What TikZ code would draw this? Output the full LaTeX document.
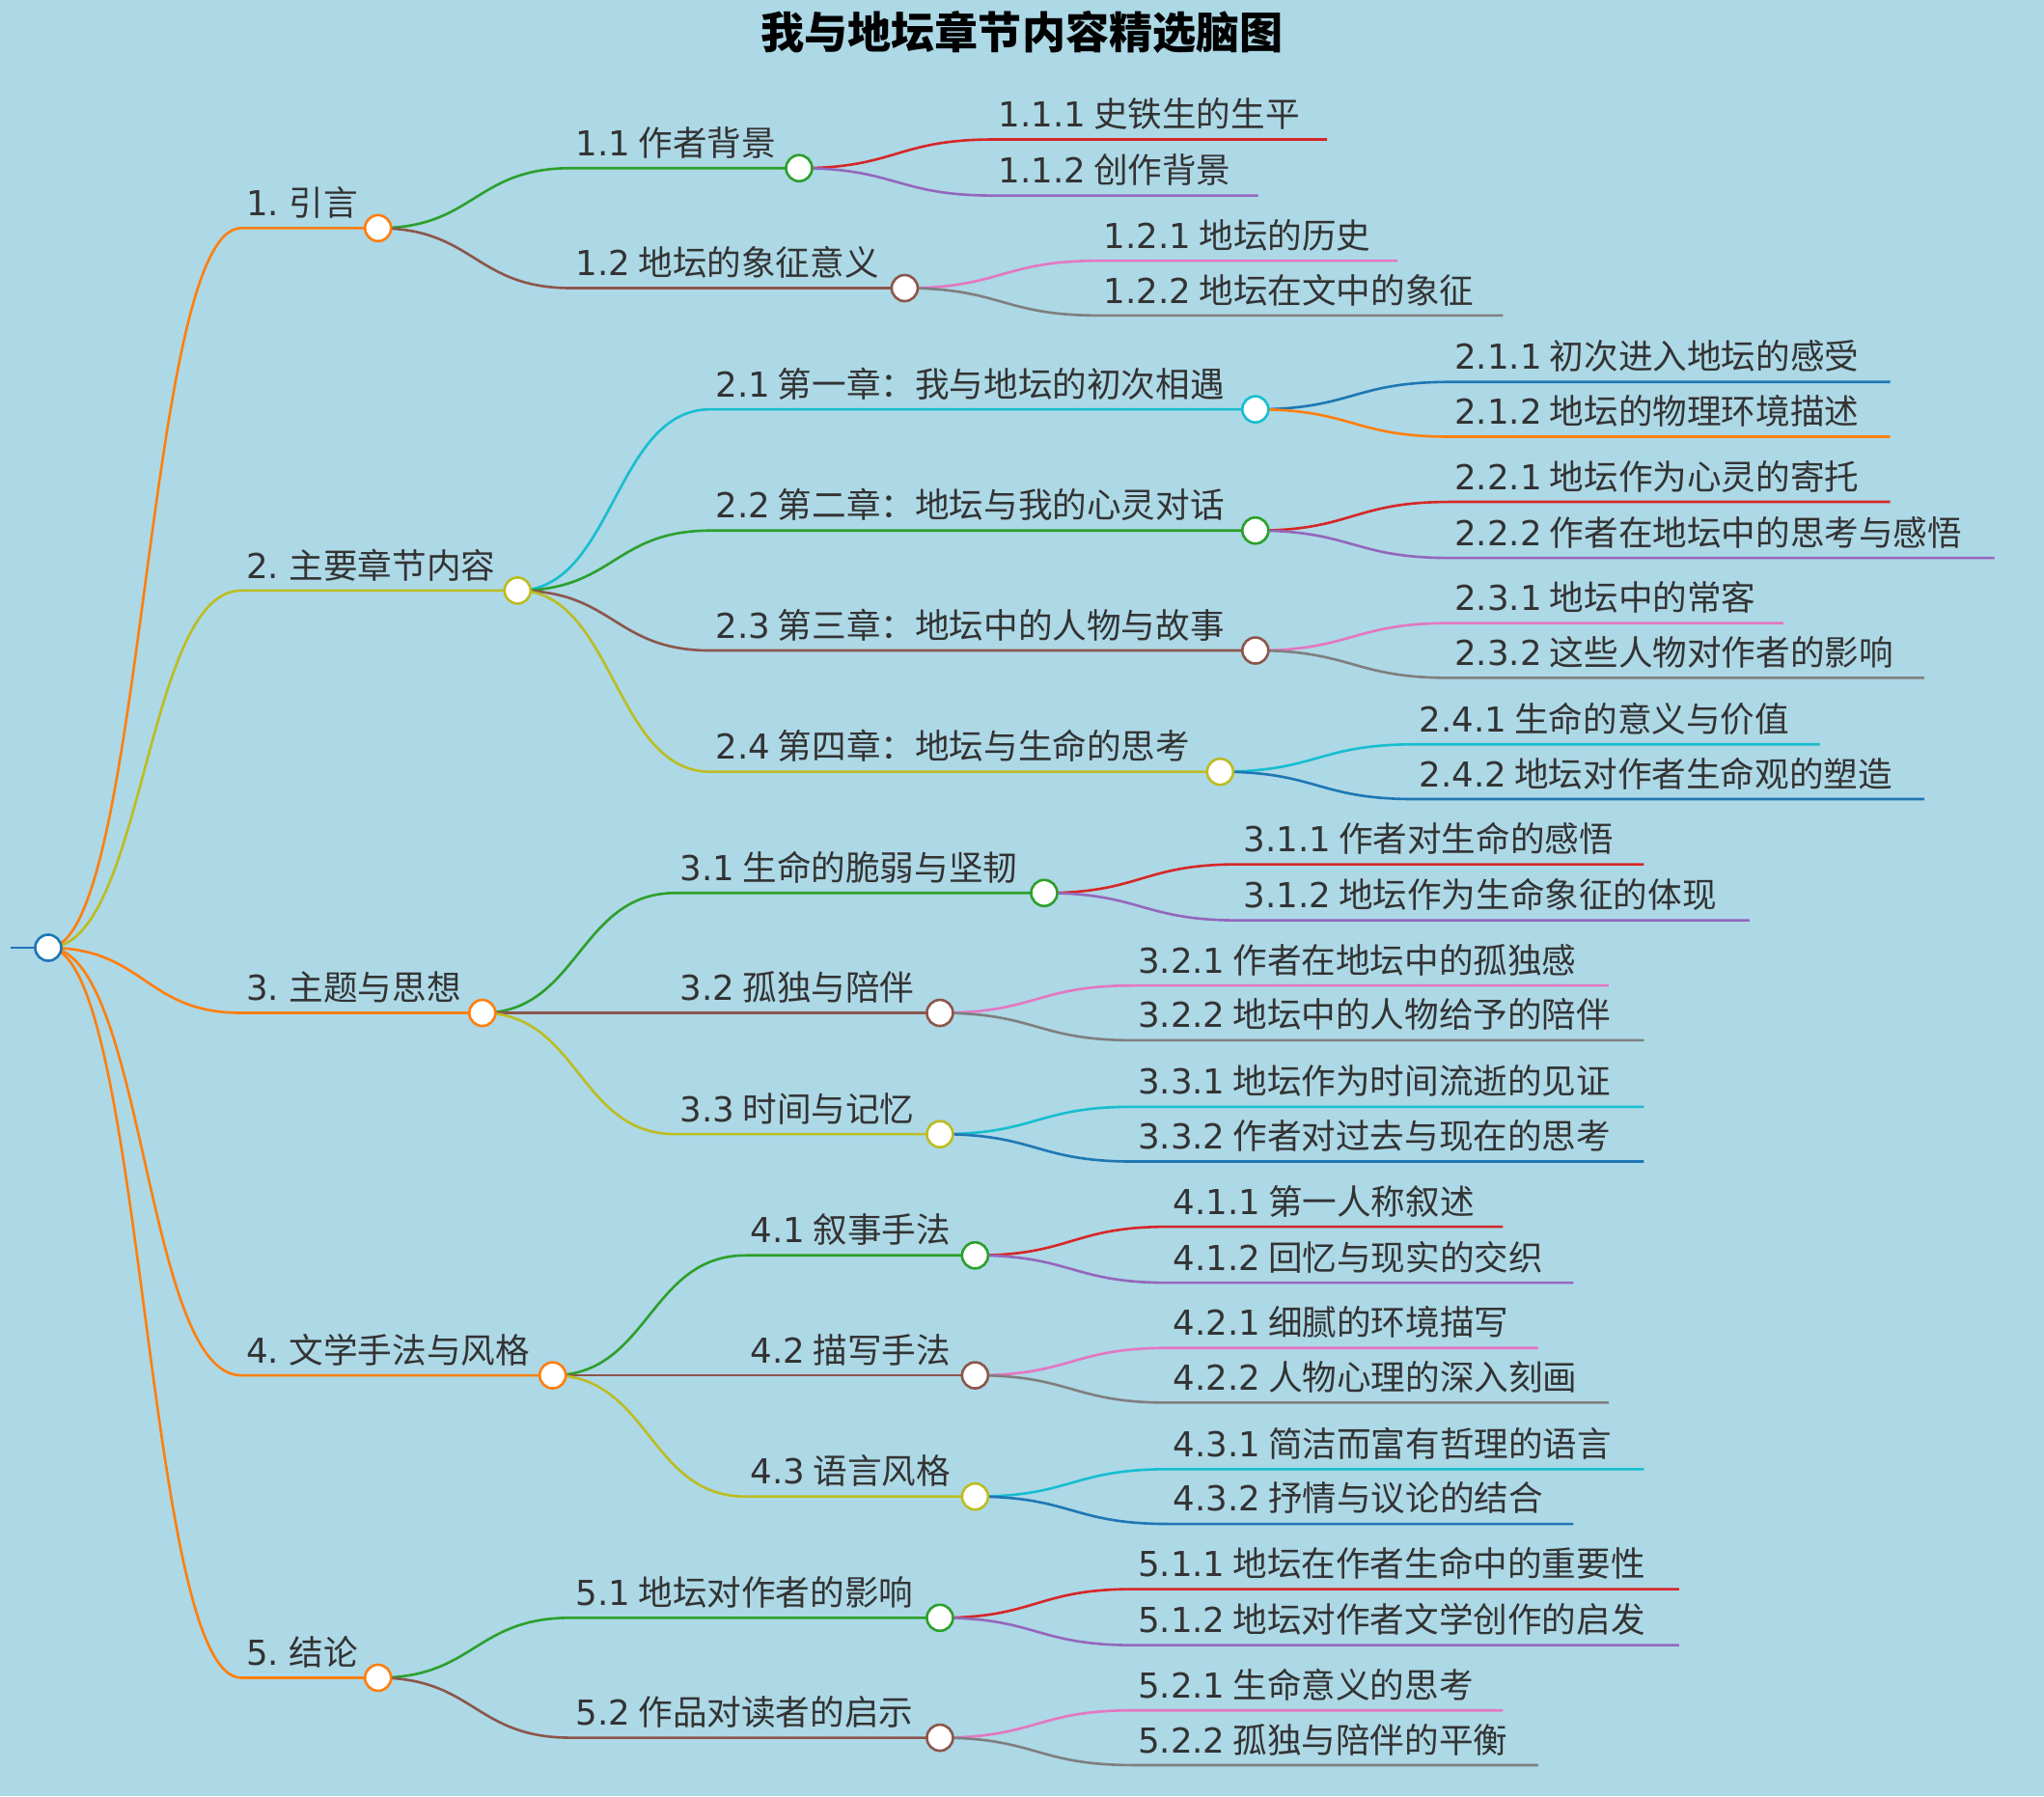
\documentclass[tikz,border=0pt]{standalone}
\usepackage{fontspec}
\setmainfont{Noto Sans CJK SC}
\newfontfamily\dejavu{DejaVu Sans}
\usetikzlibrary{positioning,calc}
\definecolor{bgc}{HTML}{ADD8E6}
\definecolor{txt}{HTML}{333333}
\definecolor{corange}{HTML}{FF7F0E}
\definecolor{colive}{HTML}{BCBD22}
\definecolor{cgreen}{HTML}{2CA02C}
\definecolor{cbrown}{HTML}{8C564B}
\definecolor{ccyan}{HTML}{17BECF}
\definecolor{cred}{HTML}{D62728}
\definecolor{cpurple}{HTML}{9467BD}
\definecolor{cpink}{HTML}{E377C2}
\definecolor{cgray}{HTML}{7F7F7F}
\definecolor{cblue}{HTML}{1F77B4}
\tikzset{
  lbl/.style={text=txt, font=\fontsize{15}{17}\selectfont, inner sep=1pt, xshift=1pt, yshift=3pt},
  dot/.style={circle, draw=#1, fill=white, line width=1.1pt, minimum size=0.4cm, inner sep=0pt},
  link/.style={line width=1.1pt}
}
% name, parent, x start, x end, y, colour, number, text
\newcommand\mmnode[8]{%
  \coordinate (#1s) at (#3,#5);
  \coordinate (#1) at (#4,#5);
  \draw[link, #6] let \p1=(#2), \p2=(#1s) in
    (#2) .. controls ({(\x1+\x2)/2},\y1) and ({(\x1+\x2)/2},\y2) .. (#1s) -- (#1);
  \node[lbl, anchor=south west] (#1t) at (#1s) {{\dejavu #7} #8};
}
\begin{document}
\begin{tikzpicture}[x=0.02cm, y=-0.02cm]
\fill[bgc] (0,0) rectangle (1568,1378);
\useasboundingbox (0,0) rectangle (1568,1378);
\node[font=\fontsize{19}{21}\selectfont\bfseries, text=black] (title) at (784,25) {我与地坛章节内容精选脑图};

\coordinate (r0) at (8,727);
\coordinate (root) at (37,727);
\draw[link, cblue] (r0) -- (root);

% level 1
\mmnode{n1}{root}{185}{290}{175}{corange}{1.}{引言}
\mmnode{n2}{root}{185}{397}{453}{colive}{2.}{主要章节内容}
\mmnode{n3}{root}{185}{370}{777}{corange}{3.}{主题与思想}
\mmnode{n4}{root}{185}{424}{1055}{corange}{4.}{文学手法与风格}
\mmnode{n5}{root}{185}{290}{1287}{corange}{5.}{结论}

% level 2
\mmnode{n11}{n1}{438}{613}{129}{cgreen}{1.1}{作者背景}
\mmnode{n12}{n1}{438}{694}{221}{cbrown}{1.2}{地坛的象征意义}
\mmnode{n21}{n2}{545}{963}{314}{ccyan}{2.1}{第一章：我与地坛的初次相遇}
\mmnode{n22}{n2}{545}{963}{407}{cgreen}{2.2}{第二章：地坛与我的心灵对话}
\mmnode{n23}{n2}{545}{963}{499}{cbrown}{2.3}{第三章：地坛中的人物与故事}
\mmnode{n24}{n2}{545}{936}{592}{colive}{2.4}{第四章：地坛与生命的思考}
\mmnode{n31}{n3}{518}{801}{685}{cgreen}{3.1}{生命的脆弱与坚韧}
\mmnode{n32}{n3}{518}{721}{777}{cbrown}{3.2}{孤独与陪伴}
\mmnode{n33}{n3}{518}{721}{870}{colive}{3.3}{时间与记忆}
\mmnode{n41}{n4}{572}{748}{963}{cgreen}{4.1}{叙事手法}
\mmnode{n42}{n4}{572}{748}{1055}{cbrown}{4.2}{描写手法}
\mmnode{n43}{n4}{572}{748}{1148}{colive}{4.3}{语言风格}
\mmnode{n51}{n5}{438}{721}{1241}{cgreen}{5.1}{地坛对作者的影响}
\mmnode{n52}{n5}{438}{721}{1333}{cbrown}{5.2}{作品对读者的启示}

% level 3
\mmnode{n111}{n11}{762}{1018}{107}{cred}{1.1.1}{史铁生的生平}
\mmnode{n112}{n11}{762}{965}{150}{cpurple}{1.1.2}{创作背景}
\mmnode{n121}{n12}{843}{1072}{200}{cpink}{1.2.1}{地坛的历史}
\mmnode{n122}{n12}{843}{1153}{242}{cgray}{1.2.2}{地坛在文中的象征}
\mmnode{n211}{n21}{1112}{1450}{293}{cblue}{2.1.1}{初次进入地坛的感受}
\mmnode{n212}{n21}{1112}{1450}{335}{corange}{2.1.2}{地坛的物理环境描述}
\mmnode{n221}{n22}{1112}{1450}{385}{cred}{2.2.1}{地坛作为心灵的寄托}
\mmnode{n222}{n22}{1112}{1530}{428}{cpurple}{2.2.2}{作者在地坛中的思考与感悟}
\mmnode{n231}{n23}{1112}{1368}{478}{cpink}{2.3.1}{地坛中的常客}
\mmnode{n232}{n23}{1112}{1476}{520}{cgray}{2.3.2}{这些人物对作者的影响}
\mmnode{n241}{n24}{1085}{1396}{571}{ccyan}{2.4.1}{生命的意义与价值}
\mmnode{n242}{n24}{1085}{1476}{613}{cblue}{2.4.2}{地坛对作者生命观的塑造}
\mmnode{n311}{n31}{950}{1261}{663}{cred}{3.1.1}{作者对生命的感悟}
\mmnode{n312}{n31}{950}{1342}{706}{cpurple}{3.1.2}{地坛作为生命象征的体现}
\mmnode{n321}{n32}{869}{1234}{756}{cpink}{3.2.1}{作者在地坛中的孤独感}
\mmnode{n322}{n32}{869}{1261}{798}{cgray}{3.2.2}{地坛中的人物给予的陪伴}
\mmnode{n331}{n33}{869}{1261}{849}{ccyan}{3.3.1}{地坛作为时间流逝的见证}
\mmnode{n332}{n33}{869}{1261}{891}{cblue}{3.3.2}{作者对过去与现在的思考}
\mmnode{n411}{n41}{896}{1153}{941}{cred}{4.1.1}{第一人称叙述}
\mmnode{n412}{n41}{896}{1207}{984}{cpurple}{4.1.2}{回忆与现实的交织}
\mmnode{n421}{n42}{896}{1180}{1034}{cpink}{4.2.1}{细腻的环境描写}
\mmnode{n422}{n42}{896}{1234}{1076}{cgray}{4.2.2}{人物心理的深入刻画}
\mmnode{n431}{n43}{896}{1261}{1127}{ccyan}{4.3.1}{简洁而富有哲理的语言}
\mmnode{n432}{n43}{896}{1207}{1169}{cblue}{4.3.2}{抒情与议论的结合}
\mmnode{n511}{n51}{869}{1288}{1219}{cred}{5.1.1}{地坛在作者生命中的重要性}
\mmnode{n512}{n51}{869}{1288}{1262}{cpurple}{5.1.2}{地坛对作者文学创作的启发}
\mmnode{n521}{n52}{869}{1153}{1312}{cpink}{5.2.1}{生命意义的思考}
\mmnode{n522}{n52}{869}{1180}{1354}{cgray}{5.2.2}{孤独与陪伴的平衡}

% circles on top
\node[dot=cblue] at (root) {};
\foreach \n/\c in {n1/corange, n2/colive, n3/corange, n4/corange, n5/corange,
  n11/cgreen, n12/cbrown, n21/ccyan, n22/cgreen, n23/cbrown, n24/colive,
  n31/cgreen, n32/cbrown, n33/colive, n41/cgreen, n42/cbrown, n43/colive,
  n51/cgreen, n52/cbrown}
  \node[dot=\c] at (\n) {};
\end{tikzpicture}
\end{document}
